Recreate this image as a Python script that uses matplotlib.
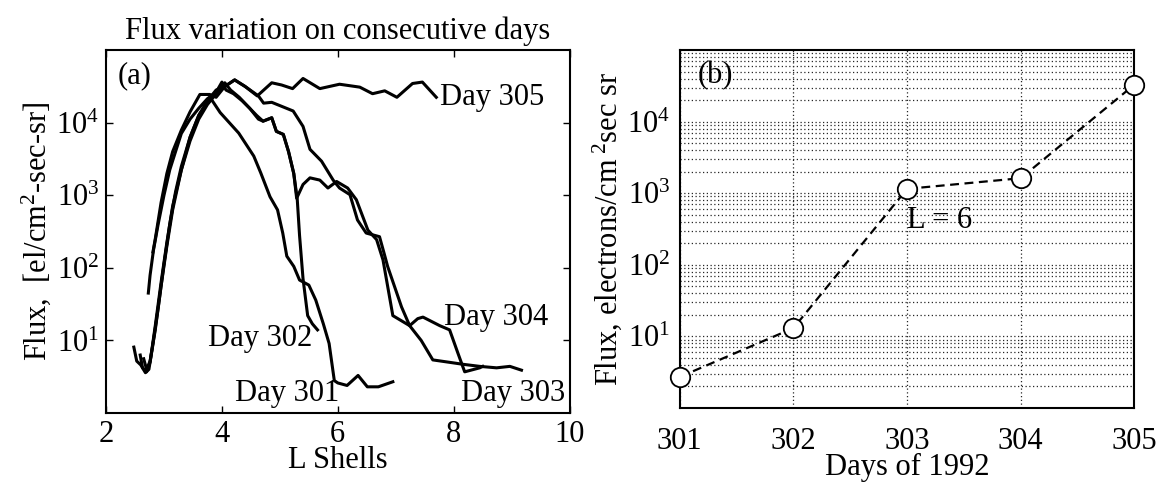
import matplotlib
matplotlib.use('Agg')
import matplotlib.pyplot as plt
from matplotlib.ticker import NullLocator, LogLocator

plt.rcParams['font.family'] = ['Liberation Serif', 'DejaVu Serif']
plt.rcParams['mathtext.fontset'] = 'custom'
plt.rcParams['mathtext.rm'] = 'Liberation Serif'
plt.rcParams['mathtext.it'] = 'Liberation Serif:italic'

# panel (a): flux profiles vs L shell, one per day
l301 = [2.48, 2.53, 2.60, 2.68, 2.74, 2.80, 2.90, 3.00, 3.10, 3.20, 3.30, 3.45, 3.60, 3.72, 3.82, 3.97,
        4.29, 4.55, 4.67, 4.83, 4.96, 5.05, 5.12, 5.24, 5.34, 5.50, 5.62, 5.75, 5.85, 5.94, 6.00, 6.16,
        6.35, 6.51, 6.70, 6.95]
f301 = [8.1, 5.2, 4.6, 3.6, 4.0, 7.9, 28, 112, 400, 1120, 2500, 6300, 12600, 17800, 20900, 13800,
        7200, 3470, 2040, 955, 630, 302, 145, 105, 68, 58, 36, 17, 9.1, 2.8, 2.6, 2.4,
        3.3, 2.3, 2.3, 2.7]

l302 = [2.59, 2.63, 2.70, 2.76, 2.85, 2.95, 3.05, 3.15, 3.30, 3.45, 3.60, 3.75, 3.90, 4.05, 4.15,
        4.30, 4.48, 4.63, 4.71, 4.86, 4.94, 5.06, 5.15, 5.24, 5.30, 5.34, 5.40, 5.48, 5.56, 5.65]
f302 = [6.3, 4.2, 3.7, 5.0, 16, 63, 224, 710, 2240, 5600, 11200, 17800, 25100, 35500, 28200,
        22400, 15800, 11200, 10500, 11700, 7600, 6900, 4000, 2000, 890, 280, 71, 22, 17, 14]

l303 = [2.81, 2.85, 2.95, 3.05, 3.15, 3.30, 3.45, 3.62, 3.79, 3.90, 4.05, 4.22, 4.40, 4.63, 4.72,
        4.86, 5.23, 5.40, 5.52, 5.72, 5.92, 6.03, 6.21, 6.34, 6.49, 6.72, 6.80, 6.86, 7.10, 7.24,
        7.44, 7.64, 7.93, 8.16, 8.45, 8.74, 8.97, 9.17]
f303 = [166, 251, 794, 2000, 4000, 7900, 14100, 24500, 24500, 22400, 31600, 38900, 31600, 23400, 18600,
        19100, 14500, 8900, 4300, 2950, 1620, 1260, 1020, 457, 302, 269, 158, 105, 29, 16,
        10, 5.4, 5.0, 4.7, 4.4, 4.2, 4.4, 3.9]

l304 = [2.73, 2.76, 2.82, 2.90, 3.00, 3.10, 3.20, 3.30, 3.45, 3.60, 3.75, 3.90, 4.00, 4.07, 4.20,
        4.35, 4.48, 4.60, 4.71, 4.86, 4.94, 5.06, 5.15, 5.24, 5.29, 5.40, 5.52, 5.69, 5.83, 5.98,
        6.17, 6.32, 6.52, 6.67, 6.78, 6.95, 7.24, 7.38, 7.47, 7.76, 7.93, 8.07, 8.19, 8.45, 8.50]
f304 = [45, 79, 178, 400, 1000, 2240, 4000, 7100, 11200, 15800, 21400, 26300, 36300, 28200, 25100,
        20000, 15800, 12600, 10500, 11700, 7600, 6900, 4000, 2000, 910, 1410, 1740, 1620, 1260, 1550,
        1260, 870, 331, 245, 129, 22, 16, 20, 21, 16, 14, 6.8, 3.7, 4.2, 4.4]

l305 = [2.65, 2.70, 2.76, 2.85, 2.95, 3.05, 3.15, 3.30, 3.45, 3.60, 3.75, 3.90, 4.05, 4.22, 4.40,
        4.61, 4.86, 5.03, 5.22, 5.40, 5.69, 6.03, 6.38, 6.60, 6.81, 7.02, 7.29, 7.46, 7.70]
f305 = [5.6, 4.0, 5.2, 14, 56, 200, 630, 2240, 6300, 12600, 20000, 28200, 31600, 38900, 31600,
        23400, 35500, 33100, 29500, 40700, 29500, 33900, 30900, 25100, 27500, 22400, 34700, 36300, 22400]

# panel (b): flux at L = 6 for each day
days = [301, 302, 303, 304, 305]
flux_l6 = [2.7, 13, 1150, 1620, 33000]

fs = 22

fig = plt.figure(figsize=(11.6, 4.82), dpi=100)
ax1 = fig.add_axes([0.0914, 0.143, 0.3996, 0.753])
ax2 = fig.add_axes([0.586, 0.154, 0.392, 0.742])

# ---- panel (a)
for l, f in [(l301, f301), (l302, f302), (l303, f303), (l304, f304), (l305, f305)]:
    ax1.plot(l, f, color='black', lw=2.2)
ax1.set_yscale('log')
ax1.set_xlim(2, 10)
ax1.set_ylim(1, 1e5)
ax1.set_xticks([2, 4, 6, 8, 10])
ax1.set_yticks([10, 100, 1000, 10000])
ax1.yaxis.set_minor_locator(NullLocator())
ax1.tick_params(direction='in', top=True, right=True, labelsize=fs, length=5, width=1, pad=5)
ax1.set_xlabel('L Shells', fontsize=fs, labelpad=-2)
ax1.set_ylabel('Flux,  [el/cm$^{2}$-sec-sr]', fontsize=fs, labelpad=2)
ax1.set_title('Flux variation on consecutive days', fontsize=fs, pad=8)
ax1.text(0.025, 0.93, '(a)', transform=ax1.transAxes, fontsize=fs, va='center')
ax1.text(7.76, 10**4.35, 'Day 305', fontsize=fs, va='center')
ax1.text(7.84, 10**1.31, 'Day 304', fontsize=fs, va='center')
ax1.text(3.76, 10**1.03, 'Day 302', fontsize=fs, va='center')
ax1.text(4.22, 10**0.27, 'Day 301', fontsize=fs, va='center')
ax1.text(8.12, 10**0.27, 'Day 303', fontsize=fs, va='center')
for s in ax1.spines.values():
    s.set_linewidth(1.5)

# ---- panel (b)
ax2.plot(days, flux_l6, color='black', lw=1.6, ls=(0, (4, 2.5)),
         marker='o', markersize=14, markerfacecolor='white', markeredgecolor='black',
         markeredgewidth=1.3, clip_on=False, zorder=5)
ax2.set_yscale('log')
ax2.set_xlim(301, 305)
ax2.set_ylim(1, 1e5)
ax2.set_xticks(days)
ax2.set_yticks([10, 100, 1000, 10000])
ax2.yaxis.set_minor_locator(LogLocator(base=10, subs=range(2, 10), numticks=50))
ax2.grid(True, which='major', axis='x', ls=(0, (1, 2)), color='0.15', lw=0.9)
ax2.grid(True, which='both', axis='y', ls=(0, (1, 2)), color='0.15', lw=0.9)
ax2.tick_params(which='both', direction='in', labelsize=fs, length=0, pad=7)
ax2.tick_params(axis='x', pad=14)
ax2.set_xlabel('Days of 1992', fontsize=fs, labelpad=-2)
ax2.set_ylabel('Flux, electrons/cm$^{\\ 2}$sec sr', fontsize=fs, labelpad=2)
ax2.text(0.04, 0.93, '(b)', transform=ax2.transAxes, fontsize=fs, va='center')
ax2.text(303.0, 415, 'L = 6', fontsize=fs, va='center')
for s in ax2.spines.values():
    s.set_linewidth(1.5)

fig.savefig('out.png', dpi=100)
